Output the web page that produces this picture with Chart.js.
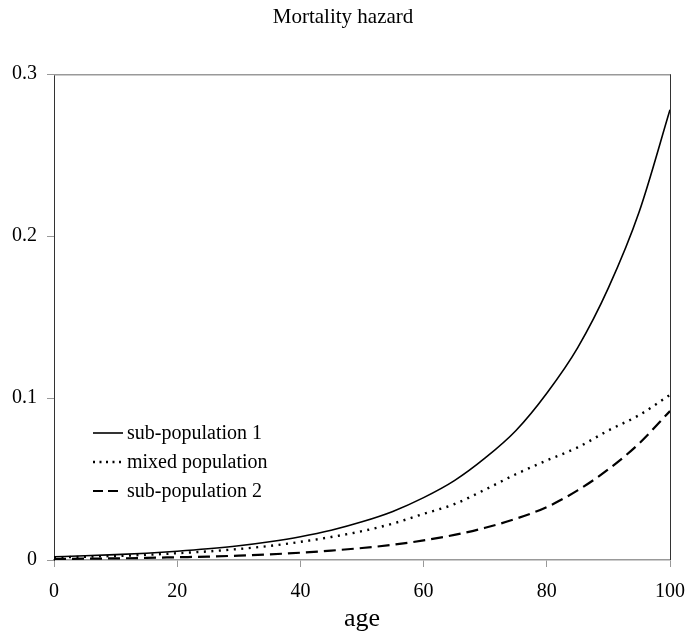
<!DOCTYPE html>
<html>
<head>
<meta charset="utf-8">
<script src="https://cdn.jsdelivr.net/npm/chart.js@4.4.1/dist/chart.umd.min.js"></script>
<style>
  html, body { margin: 0; padding: 0; background: #fff; }
  #wrap { width: 686px; height: 635px; position: relative; }
</style>
</head>
<body>
<div id="wrap"><canvas id="c" width="686" height="635"></canvas></div>
<script>
const ages = [0, 5, 10, 15, 20, 25, 30, 35, 40, 45, 50, 55, 60, 65, 70, 75, 80, 85, 90, 95, 100];
const subPop1 = [0.002, 0.0026, 0.0033, 0.0042, 0.0054, 0.0069, 0.0088, 0.0113, 0.0144, 0.0184, 0.0236, 0.030, 0.0385, 0.049, 0.063, 0.080, 0.103, 0.131, 0.168, 0.215, 0.278];
const mixedPop = [0.0016, 0.002, 0.0025, 0.0032, 0.0042, 0.0053, 0.0068, 0.0087, 0.0112, 0.0142, 0.0178, 0.0225, 0.0285, 0.0345, 0.0435, 0.053, 0.0615, 0.0695, 0.080, 0.0895, 0.102];
const subPop2 = [0.0006, 0.0008, 0.001, 0.0013, 0.0017, 0.0021, 0.0027, 0.0035, 0.0045, 0.0058, 0.0074, 0.0094, 0.0121, 0.0155, 0.0199, 0.0255, 0.0327, 0.043, 0.056, 0.072, 0.092];
const seriesNames = ['sub-population 1', 'mixed population', 'sub-population 2'];
const xTicks = [0, 20, 40, 60, 80, 100];
const yTicks = [0, 0.1, 0.2, 0.3];

const FONT = '"Liberation Serif", "Times New Roman", Times, serif';
const toPts = arr => ages.map((a, i) => ({ x: a, y: arr[i] }));

const frame = {
  id: 'frame',
  afterDatasetsDraw(chart) {
    const { ctx, chartArea: a } = chart;
    ctx.save();
    ctx.lineWidth = 1.5;
    ctx.strokeStyle = '#999';
    ctx.beginPath(); ctx.moveTo(a.left, a.top + 0.5); ctx.lineTo(a.right, a.top + 0.5); ctx.stroke();
    ctx.strokeStyle = '#333';
    ctx.lineWidth = 1;
    ctx.beginPath(); ctx.moveTo(a.right + 0.5, a.top); ctx.lineTo(a.right + 0.5, a.bottom); ctx.stroke();
    ctx.restore();
  }
};

const innerLegend = {
  id: 'innerLegend',
  afterDraw(chart) {
    const { ctx } = chart;
    ctx.save();
    ctx.font = '20px ' + FONT;
    ctx.textBaseline = 'middle';
    ctx.fillStyle = '#000';
    chart.data.datasets.forEach((ds, i) => {
      const y = 433 + i * 29;
      ctx.strokeStyle = ds.borderColor;
      ctx.lineWidth = ds.borderWidth;
      ctx.setLineDash(i === 0 ? [] : (i === 1 ? [2, 4.5] : [10, 5]));
      ctx.beginPath(); ctx.moveTo(93, y); ctx.lineTo(123, y); ctx.stroke();
      ctx.setLineDash([]);
      ctx.fillText(ds.label, 127, y + 1);
    });
    ctx.restore();
  }
};

new Chart(document.getElementById('c'), {
  type: 'line',
  data: {
    datasets: [
      { label: seriesNames[0], data: toPts(subPop1), borderColor: '#000', borderWidth: 1.6, pointRadius: 0, cubicInterpolationMode: 'monotone' },
      { label: seriesNames[1], data: toPts(mixedPop), borderColor: '#000', borderWidth: 2.4, borderDash: [2, 5.5], pointRadius: 0, cubicInterpolationMode: 'monotone' },
      { label: seriesNames[2], data: toPts(subPop2), borderColor: '#000', borderWidth: 2.2, borderDash: [12, 6], pointRadius: 0, cubicInterpolationMode: 'monotone' }
    ]
  },
  options: {
    responsive: false,
    animation: false,
    layout: { padding: { left: 0, right: 0, top: 0, bottom: 0 } },
    plugins: {
      legend: { display: false },
      tooltip: { enabled: false },
      title: {
        display: true,
        text: 'Mortality hazard',
        color: '#000',
        font: { family: FONT, size: 21, weight: 'normal' },
        padding: { top: 5, bottom: 44 }
      }
    },
    scales: {
      x: {
        type: 'linear',
        min: 0, max: 100,
        afterBuildTicks: s => { s.ticks = xTicks.map(v => ({ value: v })); },
        afterFit: s => { s.height = 75; s.paddingRight = 16; s.paddingLeft = 0; },
        border: { display: true, color: '#999', width: 1.5 },
        grid: { drawOnChartArea: false, drawTicks: true, tickLength: 7, color: '#999' },
        ticks: { color: '#000', font: { family: FONT, size: 20 }, padding: 13, maxRotation: 0 },
        title: { display: true, text: 'age', color: '#000', font: { family: FONT, size: 26 }, padding: { top: 2, bottom: 0 } }
      },
      y: {
        type: 'linear',
        min: 0, max: 0.3,
        afterBuildTicks: s => { s.ticks = yTicks.map(v => ({ value: v })); },
        afterFit: s => { s.width = 54; s.paddingTop = 0; s.paddingBottom = 0; },
        border: { display: true, color: '#333', width: 1 },
        grid: { drawOnChartArea: false, drawTicks: true, tickLength: 7, color: '#999' },
        ticks: { color: '#000', font: { family: FONT, size: 20 }, padding: 10, callback: v => String(+v.toFixed(1)) }
      }
    }
  },
  plugins: [frame, innerLegend]
});
</script>
</body>
</html>
